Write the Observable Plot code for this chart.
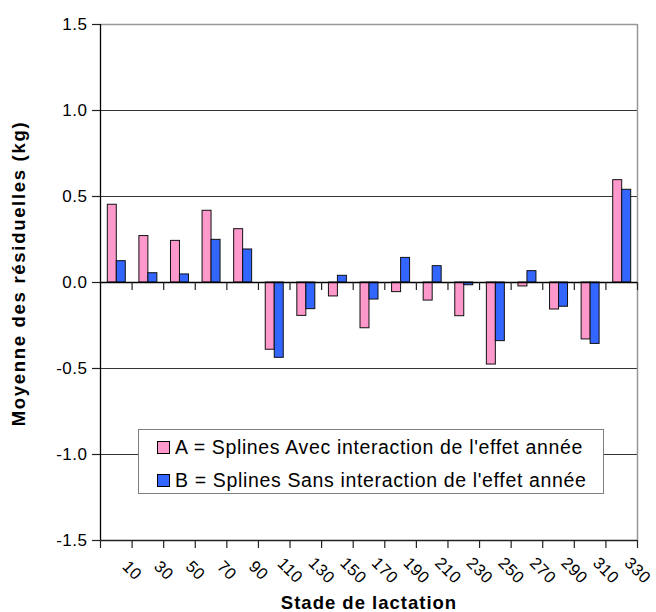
<!DOCTYPE html>
<html><head><meta charset="utf-8">
<script src="https://cdn.jsdelivr.net/npm/d3@7"></script>
<script src="https://cdn.jsdelivr.net/npm/@observablehq/plot@0.6"></script>
<style>
body{margin:0;background:#fff;font-family:"Liberation Sans",Arial,sans-serif;}
#wrap{position:relative;width:656px;height:612px;}
#legend{position:absolute;left:138px;top:429px;width:466px;height:65px;border:1px solid #7f7f7f;background:#fff;box-sizing:border-box;}
#legend .row{position:absolute;left:18px;height:24px;display:flex;align-items:center;font-size:19.5px;letter-spacing:0.65px;color:#000;white-space:nowrap;}
#legend .sw{width:11px;height:11px;border:1px solid #000;margin-right:5px;}
</style></head><body><div id="wrap"></div>
<script>
const stades = [10,30,50,70,90,110,130,150,170,190,210,230,250,270,290,310,330];
const serieA = [0.452,0.270,0.242,0.417,0.310,-0.391,-0.194,-0.081,-0.266,-0.056,-0.105,-0.196,-0.477,-0.023,-0.157,-0.331,0.595];
const serieB = [0.124,0.054,0.047,0.248,0.192,-0.438,-0.155,0.039,-0.099,0.143,0.095,-0.016,-0.341,0.066,-0.141,-0.357,0.539];
const yTicks = [-1.5,-1.0,-0.5,0,0.5,1.0,1.5];
const seriesNames = ["A = Splines Avec interaction de l'effet année","B = Splines Sans interaction de l'effet année"];
const colors = ["#FF99CC","#3366FF"];
const yTitle = "Moyenne des résiduelles (kg)";
const xTitle = "Stade de lactation";

const W = 656, H = 612, mL = 100, mR = 19, mT = 24, mB = 72;
const step = stades[1] - stades[0];
const half = step / 2;
const xMin = stades[0] - half, xMax = stades[stades.length-1] + half;
const bw = (W - mL - mR) / stades.length;
const boundaries = stades.map(s => s - half).concat([xMax]);
const rows = stades.map((s,i) => ({stade: s, A: serieA[i], B: serieB[i]}));
const yMin = yTicks[0], yMax = yTicks[yTicks.length-1];

const chart = Plot.plot({
  width: W, height: H,
  marginLeft: mL, marginRight: mR, marginTop: mT, marginBottom: mB,
  style: {fontFamily: '"Liberation Sans", Arial, sans-serif', fontSize: "16px", background: "#fff", overflow: "visible"},
  x: {type: "linear", domain: [xMin, xMax], axis: null},
  y: {domain: [yMin, yMax], axis: null},
  marks: [
    Plot.ruleY(yTicks.filter(v => v !== 0 && v !== yMin && v !== yMax), {stroke: "#333", strokeWidth: 1}),
    Plot.ruleY([yMax], {stroke: "#999", strokeWidth: 1.5}),
    Plot.ruleX([xMax], {stroke: "#999", strokeWidth: 1.5}),
    Plot.rect(rows, {x1: d => d.stade - half, x2: d => d.stade + half, y1: 0, y2: "A", fill: colors[0], stroke: "#111", strokeWidth: 1, insetLeft: 7.3, insetRight: 15.3}),
    Plot.rect(rows, {x1: d => d.stade - half, x2: d => d.stade + half, y1: 0, y2: "B", fill: colors[1], stroke: "#111", strokeWidth: 1, insetLeft: 16.3, insetRight: 6.3}),
    Plot.ruleY([0], {stroke: "#000", strokeWidth: 1.3}),
    Plot.ruleY([yMin], {stroke: "#222", strokeWidth: 1.3}),
    Plot.ruleX([xMin], {stroke: "#000", strokeWidth: 1.3}),
    Plot.ruleX(boundaries.slice(1), {x: d => d, y1: 0, y2: 0, insetBottom: -8, stroke: "#222", strokeWidth: 1.2}),
    Plot.ruleX(boundaries, {x: d => d, y1: yMin, y2: yMin, insetBottom: -8, stroke: "#222", strokeWidth: 1.2}),
    Plot.ruleY(yTicks, {y: d => d, x1: xMin, x2: xMin, insetLeft: -8, stroke: "#222", strokeWidth: 1.2}),
    Plot.text(yTicks, {y: d => d, frameAnchor: "left", textAnchor: "end", dx: -13, text: d => d.toFixed(1), fontSize: 17, fill: "#000"}),
    Plot.text(stades, {x: d => d, y: yMin, text: d => String(d), rotate: 45, textAnchor: "middle", dx: bw / 2, dy: 30, fontSize: 16.5, fill: "#000"}),
    Plot.text([yTitle], {frameAnchor: "left", textAnchor: "middle", lineAnchor: "middle", rotate: -90, dx: -81, dy: -9, fontWeight: "bold", fontSize: 18.5, fill: "#000"}),
    Plot.text([xTitle], {frameAnchor: "bottom", textAnchor: "middle", lineAnchor: "middle", dy: 63, fontWeight: "bold", fontSize: 18.5, fill: "#000"})
  ]
});
d3.select(chart).selectAll("text").each(function() {
  const t = this.textContent;
  if (t === yTitle) this.setAttribute("letter-spacing", "1.7");
  else if (t === xTitle) this.setAttribute("letter-spacing", "1");
  else this.setAttribute("letter-spacing", "0.5");
});
const wrap = document.getElementById("wrap");
wrap.appendChild(chart);
const legend = document.createElement("div");
legend.id = "legend";
seriesNames.forEach((name, i) => {
  const row = document.createElement("div");
  row.className = "row";
  row.style.top = (5 + i * 33) + "px";
  const sw = document.createElement("span");
  sw.className = "sw";
  sw.style.background = colors[i];
  const t = document.createElement("span");
  t.textContent = name;
  row.appendChild(sw); row.appendChild(t);
  legend.appendChild(row);
});
wrap.appendChild(legend);
</script></body></html>
